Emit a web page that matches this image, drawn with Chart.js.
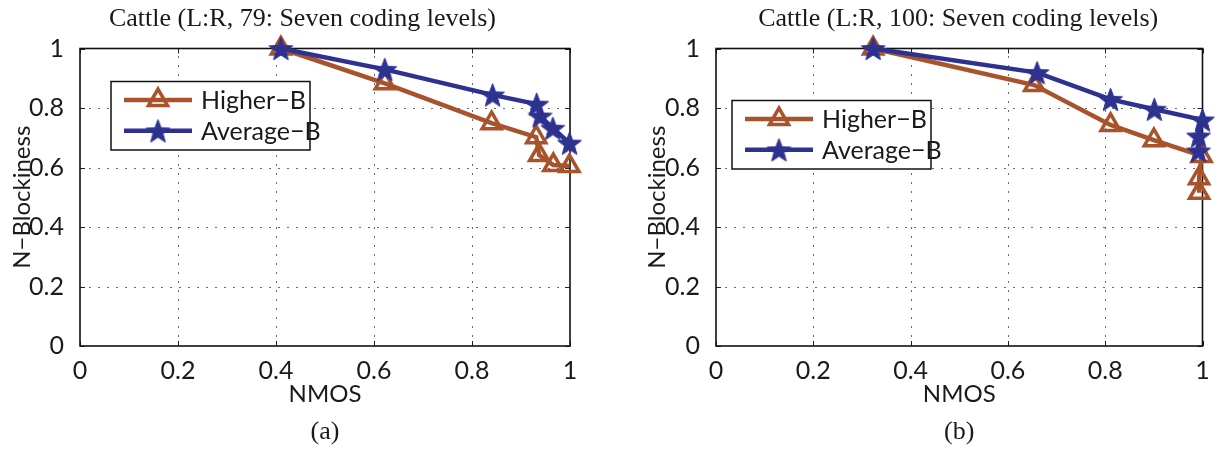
<!DOCTYPE html>
<html><head><meta charset="utf-8">
<script src="https://cdn.jsdelivr.net/npm/chart.js@4"></script>
<style>
html,body{margin:0;padding:0;background:#fff;overflow:hidden}
#wrap{position:relative;width:1219px;height:450px;overflow:hidden;background:#fff}
canvas{position:absolute;top:0}
</style></head><body>
<div id="wrap">
<canvas id="ca" width="610" height="450" style="left:0"></canvas>
<canvas id="cb" width="609" height="450" style="left:610px"></canvas>
</div>
<script>
// ---- data ----
const seriesNames = ['Higher\u2212B', 'Average\u2212B'];
const xTicks = [0, 0.2, 0.4, 0.6, 0.8, 1];
const yTicks = [0, 0.2, 0.4, 0.6, 0.8, 1];
const titleA = 'Cattle (L:R, 79: Seven coding levels)';
const titleB = 'Cattle (L:R, 100: Seven coding levels)';
const xLabel = 'NMOS';
const yLabel = 'N\u2212Blockiness';

// (a)
const nmosA_higher = [0.41, 0.622, 0.840, 0.931, 0.937, 0.966, 0.999];
const nblkA_higher = [1.0, 0.883, 0.749, 0.702, 0.642, 0.608, 0.605];
const nmosA_avg    = [0.41, 0.622, 0.842, 0.932, 0.939, 0.965, 0.999];
const nblkA_avg    = [1.0, 0.930, 0.844, 0.813, 0.773, 0.732, 0.682];
// (b)
const nmosB_higher = [0.323, 0.654, 0.811, 0.900, 0.998, 0.993, 0.993];
const nblkB_higher = [1.0, 0.877, 0.743, 0.692, 0.639, 0.564, 0.515];
const nmosB_avg    = [0.323, 0.660, 0.811, 0.901, 1.0, 0.992, 0.992];
const nblkB_avg    = [1.0, 0.919, 0.829, 0.796, 0.760, 0.706, 0.656];

const BROWN = '#A8532B';
const BLUE = '#2D3291';
const SANS = 'Lato, "Noto Sans", sans-serif';
const SERIF = '"Liberation Serif", "DejaVu Serif", serif';

function zip(xs, ys) { return xs.map((x, i) => ({x: x, y: ys[i]})); }

function makeStar(R, color) {
  const s = Math.ceil(R * 2 + 4);
  const c = document.createElement('canvas');
  c.width = s; c.height = s;
  const g = c.getContext('2d');
  const cx = s / 2, cy = s / 2 + R * 0.1, r = R * 0.42;
  g.beginPath();
  for (let i = 0; i < 10; i++) {
    const ang = -Math.PI / 2 + i * Math.PI / 5;
    const rr = (i % 2) ? r : R;
    g.lineTo(cx + rr * Math.cos(ang), cy + rr * Math.sin(ang));
  }
  g.closePath();
  g.fillStyle = color; g.fill();
  g.lineWidth = 1; g.strokeStyle = color; g.stroke();
  return c;
}
const starImg = makeStar(12.5, BLUE);

const gridPlugin = {
  id: 'mgrid',
  beforeDatasetsDraw(chart) {
    const {ctx, chartArea: a} = chart;
    const sx = chart.scales.x, sy = chart.scales.y;
    ctx.save();
    ctx.strokeStyle = '#6a6a6a'; ctx.lineWidth = 1; ctx.setLineDash([2, 7]);
    xTicks.slice(1, -1).forEach(v => {
      const px = Math.round(sx.getPixelForValue(v)) + 0.5;
      ctx.beginPath(); ctx.moveTo(px, a.bottom); ctx.lineTo(px, a.top); ctx.stroke();
    });
    yTicks.slice(1, -1).forEach(v => {
      const py = Math.round(sy.getPixelForValue(v)) + 0.5;
      ctx.beginPath(); ctx.moveTo(a.left, py); ctx.lineTo(a.right, py); ctx.stroke();
    });
    ctx.setLineDash([]);
    ctx.strokeStyle = '#222'; ctx.lineWidth = 1;
    xTicks.forEach(v => {
      const px = Math.round(sx.getPixelForValue(v)) + 0.5;
      ctx.beginPath(); ctx.moveTo(px, a.bottom); ctx.lineTo(px, a.bottom - 5);
      ctx.moveTo(px, a.top); ctx.lineTo(px, a.top + 5); ctx.stroke();
    });
    yTicks.forEach(v => {
      const py = Math.round(sy.getPixelForValue(v)) + 0.5;
      ctx.beginPath(); ctx.moveTo(a.left, py); ctx.lineTo(a.left + 5, py);
      ctx.moveTo(a.right, py); ctx.lineTo(a.right - 5, py); ctx.stroke();
    });
    ctx.strokeStyle = '#111'; ctx.lineWidth = 1.6;
    ctx.strokeRect(a.left, a.top, a.right - a.left, a.bottom - a.top);
    ctx.restore();
  }
};

const titleShift = {
  id: 'titleShift',
  afterLayout(chart, args, opts) {
    const a = chart.chartArea;
    const cx = (a.left + a.right) / 2 + (opts.dx || 0);
    const tb = chart.titleBlock;
    if (tb) { tb.left = cx - 300; tb.right = cx + 300; }
  }
};

const legendPlugin = {
  id: 'mlegend',
  afterDatasetsDraw(chart, args, opts) {
    const {ctx, chartArea: a} = chart;
    const bx = a.left + opts.dx, by = a.top + opts.dy, bw = 199, bh = 68.5;
    ctx.save();
    ctx.fillStyle = '#fff'; ctx.fillRect(bx, by, bw, bh);
    ctx.strokeStyle = '#111'; ctx.lineWidth = 1.5; ctx.strokeRect(bx, by, bw, bh);
    const rows = [by + 18.6, by + 49.3];
    const ds = chart.data.datasets;
    rows.forEach((ry, i) => {
      const d = ds[i];
      ctx.strokeStyle = d.borderColor; ctx.lineWidth = d.borderWidth;
      ctx.beginPath(); ctx.moveTo(bx + 13, ry); ctx.lineTo(bx + 81, ry); ctx.stroke();
      const mx = bx + 47;
      if (d.pointStyle === 'triangle') {
        const r = d.pointRadius;
        ctx.lineWidth = d.pointBorderWidth; ctx.strokeStyle = d.pointBorderColor;
        ctx.beginPath();
        for (let k = 0; k < 3; k++) {
          const ang = k * 2 * Math.PI / 3;
          ctx.lineTo(mx + Math.sin(ang) * r, ry - Math.cos(ang) * r);
        }
        ctx.closePath(); ctx.stroke();
      } else {
        const im = d.pointStyle;
        ctx.drawImage(im, mx - im.width / 2, ry - im.height / 2);
      }
      ctx.fillStyle = '#1a1a1a'; ctx.font = '25px ' + SANS;
      ctx.textBaseline = 'middle'; ctx.textAlign = 'left';
      ctx.fillText(d.label, bx + 90, ry + 1);
    });
    ctx.restore();
  }
};

function makeChart(id, cfg) {
  return new Chart(document.getElementById(id), {
    type: 'scatter',
    data: {
      datasets: [
        { label: seriesNames[0], data: zip(cfg.hx, cfg.hy), showLine: true,
          borderColor: BROWN, borderWidth: 4.5, pointStyle: 'triangle', pointRadius: 11,
          pointBorderWidth: 3.5, pointBorderColor: BROWN, pointBackgroundColor: 'rgba(0,0,0,0)',
          order: 1, clip: false },
        { label: seriesNames[1], data: zip(cfg.ax, cfg.ay), showLine: true,
          borderColor: BLUE, borderWidth: 4.5, pointStyle: starImg, pointRadius: 12,
          pointBorderColor: BLUE, pointBackgroundColor: BLUE,
          order: 0, clip: false }
      ]
    },
    options: {
      responsive: false, animation: false, devicePixelRatio: 1,
      layout: { padding: { left: 0, right: cfg.pr, top: 0, bottom: 0 } },
      plugins: {
        legend: { display: false }, tooltip: { enabled: false },
        title: { display: true, text: cfg.title, color: '#1a1a1a',
          font: { family: SERIF, size: 26, weight: 'normal' }, padding: { top: 3.5, bottom: 13.8 } },
        subtitle: { display: true, position: 'bottom', fullSize: false, text: cfg.tag, color: '#1a1a1a',
          font: { family: SERIF, size: 26, weight: 'normal' }, padding: { top: 0, bottom: 2.4 } },
        titleShift: { dx: cfg.tdx },
        mlegend: { dx: cfg.ldx, dy: cfg.ldy }
      },
      scales: {
        x: {
          type: 'linear', min: 0, max: 1,
          afterBuildTicks(s) { s.ticks = xTicks.map(v => ({ value: v })); },
          ticks: { callback: v => String(v), font: { family: SANS, size: 25 }, color: '#1a1a1a',
            padding: 2, maxRotation: 0, autoSkip: false },
          grid: { display: false }, border: { display: false },
          title: { display: true, text: xLabel, color: '#1a1a1a', font: { family: SANS, size: 24 },
            padding: { top: 0, bottom: 8 } },
          afterFit(s) { s.height = 70.4; s.paddingLeft = 0; s.paddingRight = 0; }
        },
        y: {
          type: 'linear', min: 0, max: 1,
          afterBuildTicks(s) { s.ticks = yTicks.map(v => ({ value: v })); },
          ticks: { callback: v => String(v), font: { family: SANS, size: 25 }, color: '#1a1a1a',
            padding: 8, autoSkip: false },
          grid: { display: false }, border: { display: false },
          title: { display: true, text: yLabel, color: '#1a1a1a', font: { family: SANS, size: 24 },
            padding: { top: cfg.ytp, bottom: 0 } },
          afterFit(s) { s.width = cfg.yw; s.paddingTop = 0; s.paddingBottom = 0; }
        }
      }
    },
    plugins: [gridPlugin, titleShift, legendPlugin]
  });
}

makeChart('ca', { hx: nmosA_higher, hy: nblkA_higher, ax: nmosA_avg, ay: nblkA_avg,
  title: titleA, tag: '(a)', pr: 40, yw: 80, ytp: 7.6, tdx: -22.5, ldx: 31, ldy: 33 });
makeChart('cb', { hx: nmosB_higher, hy: nblkB_higher, ax: nmosB_avg, ay: nblkB_avg,
  title: titleB, tag: '(b)', pr: 15, yw: 106, ytp: 32.6, tdx: -1, ldx: 16, ldy: 52 });
</script>
</body></html>
